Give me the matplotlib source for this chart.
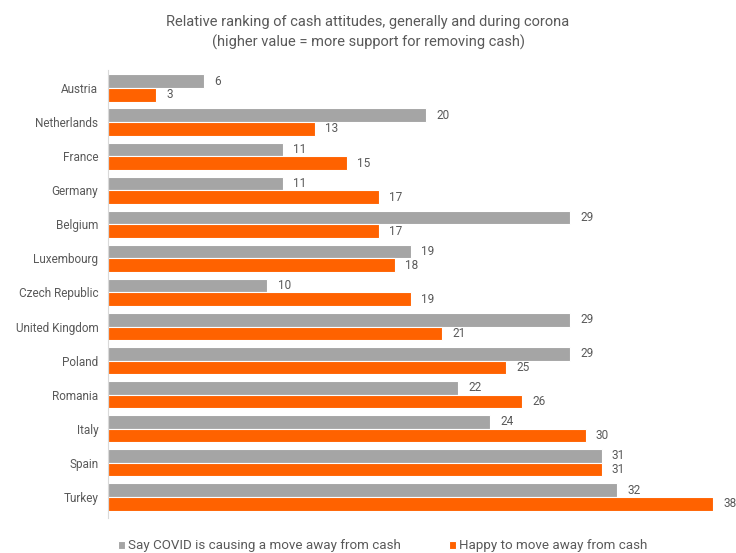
import matplotlib.pyplot as plt
import numpy as np

countries = ["Austria", "Netherlands", "France", "Germany", "Belgium", "Luxembourg",
             "Czech Republic", "United Kingdom", "Poland", "Romania", "Italy", "Spain", "Turkey"]
covid_move = [6, 20, 11, 11, 29, 19, 10, 29, 29, 22, 24, 31, 32]
happy_move = [3, 13, 15, 17, 17, 18, 19, 21, 25, 26, 30, 31, 38]

GREY = "#A5A5A5"
ORANGE = "#FF6200"
TEXT = "#595959"

plt.rcParams['font.family'] = ['Roboto', 'DejaVu Sans']

fig = plt.figure(figsize=(7.36, 5.53), dpi=100)
W, H = 736, 553
# axes box in pixels: x 108..713 (0..38), y 70..518
ax = fig.add_axes([108 / W, 1 - 518 / H, (713 - 108) / W, (518 - 70) / H])

y = np.arange(len(countries))
h = 0.4
ax.barh(y - h / 2, covid_move, height=h, color=GREY, edgecolor="white", linewidth=0.8,
        label="Say COVID is causing a move away from cash")
ax.barh(y + h / 2, happy_move, height=h, color=ORANGE, edgecolor="white", linewidth=0.8,
        label="Happy to move away from cash")

for i in range(len(countries)):
    ax.text(covid_move[i] + 0.65, y[i] - h / 2, str(covid_move[i]), va="center", ha="left",
            fontsize=8.5, color=TEXT, clip_on=False)
    ax.text(happy_move[i] + 0.65, y[i] + h / 2, str(happy_move[i]), va="center", ha="left",
            fontsize=8.5, color=TEXT, clip_on=False)

ax.set_xlim(0, 38)
ax.set_ylim(12.62, -0.53)
ax.set_yticks(y)
ax.set_yticklabels(countries, fontsize=8.5, color=TEXT)
ax.tick_params(axis="y", length=0, pad=7)
ax.set_xticks([])
for s in ["top", "right", "bottom"]:
    ax.spines[s].set_visible(False)
ax.spines["left"].set_color("#D9D9D9")
ax.spines["left"].set_linewidth(0.8)

fig.text(0.5, 1 - 22 / H, "Relative ranking of cash attitudes, generally and during corona",
         ha="center", va="center", fontsize=10.5, color=TEXT)
fig.text(0.5, 1 - 42 / H, "(higher value = more support for removing cash)",
         ha="center", va="center", fontsize=10.5, color=TEXT)

fig.legend(loc="center", bbox_to_anchor=(383 / W, 1 - 546 / H), ncol=2, frameon=False,
           fontsize=9.6, handlelength=0.5, handleheight=0.5, handletextpad=0.25,
           columnspacing=3.6, labelcolor=TEXT)

fig.savefig("out.png", dpi=100)
